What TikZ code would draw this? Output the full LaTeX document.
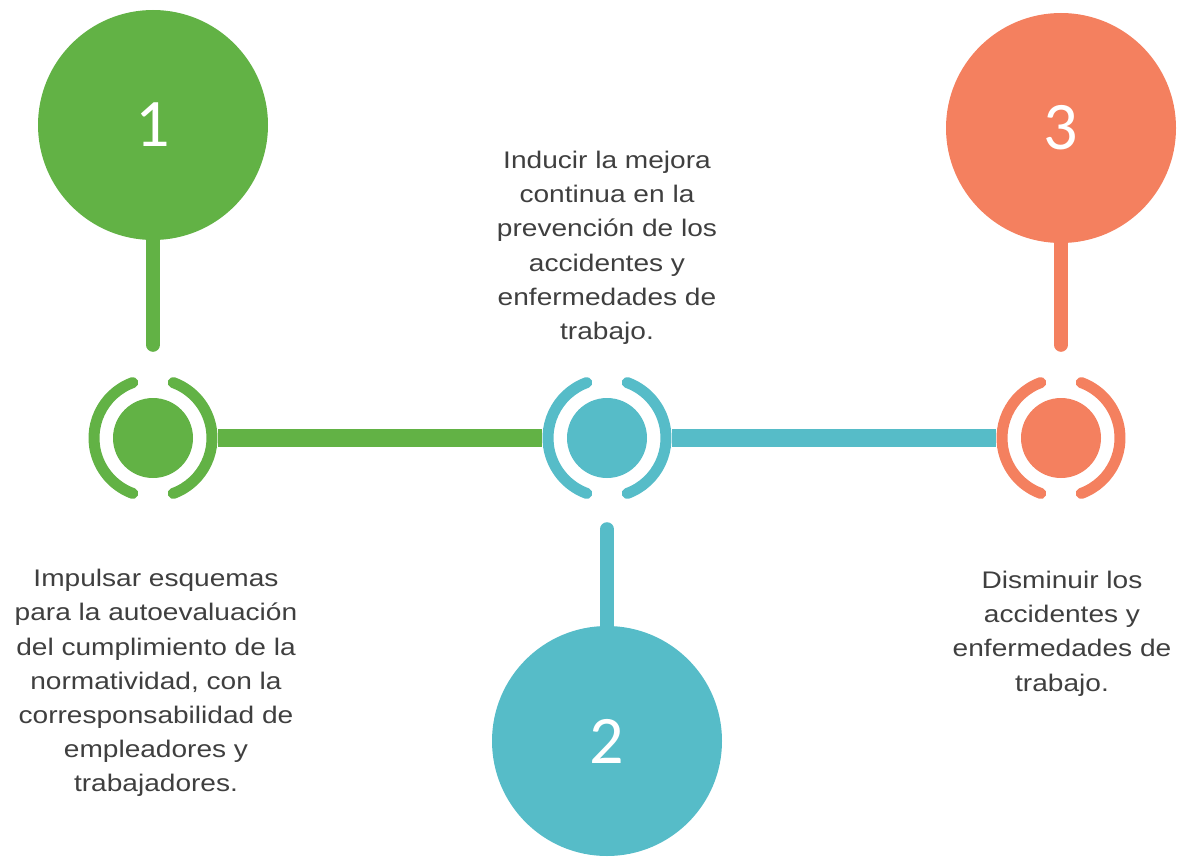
\documentclass[tikz,border=0pt]{standalone}
\usepackage{fontspec}
\setmainfont{Liberation Sans}
\newfontfamily\descfont[FakeStretch=1.17]{Liberation Sans}
\newfontfamily\numfont{Carlito}
\usetikzlibrary{calc}
\definecolor{cgreen}{HTML}{62B245}
\definecolor{cteal}{HTML}{56BCC8}
\definecolor{csalmon}{HTML}{F4805F}
\definecolor{ctext}{HTML}{3F3F3F}
\tikzset{
  bigcircle/.style={circle, fill=#1, minimum size=230pt, inner sep=0pt, text=white,
    font=\numfont\fontsize{68}{68}\selectfont},
  ringzone/.style={circle, minimum size=130pt, inner sep=0pt},
  disk/.style={circle, fill=#1, minimum size=80pt, inner sep=0pt},
  arcline/.style={draw=#1, line width=11pt, line cap=round},
  stem/.style={draw=#1, line width=14pt, line cap=round},
  bar/.style={draw=#1, line width=18pt},
  desc/.style={align=center, text=ctext, inner sep=0pt, anchor=north,
    font=\descfont\fontsize{24}{34.2}\selectfont},
}
\newcommand\myring[2]{%
  \draw[arcline=#2] ([shift={(110:59pt)}]#1.center) arc[start angle=110, end angle=250, radius=59pt];
  \draw[arcline=#2] ([shift={(-70:59pt)}]#1.center) arc[start angle=-70, end angle=70, radius=59pt];
}
\begin{document}
\begin{tikzpicture}[x=1pt,y=-1pt]
\useasboundingbox (0,0) rectangle (1177,859);
% big numbered circles
\node[bigcircle=cgreen] (c1) at (153,125) {1};
\node[bigcircle=cteal] (c2) at (607,741) {2};
\node[bigcircle=csalmon] (c3) at (1061,128) {3};
% rings
\node[ringzone] (r1) at (153,438) {};
\node[ringzone] (r2) at (607,438) {};
\node[ringzone] (r3) at (1061,438) {};
% bars
\draw[bar=cgreen] (r1.east) -- (r2.west);
\draw[bar=cteal] (r2.east) -- (r3.west);
% rings and disks
\myring{r1}{cgreen}
\myring{r2}{cteal}
\myring{r3}{csalmon}
\node[disk=cgreen] (d1) at (r1.center) {};
\node[disk=cteal] (d2) at (r2.center) {};
\node[disk=csalmon] (d3) at (r3.center) {};
% stems
\draw[stem=cgreen] (c1.south) -- ($(r1.north)+(0,-28)$);
\draw[stem=cteal] ($(r2.south)+(0,26)$) -- (c2.north);
\draw[stem=csalmon] (c3.south) -- ($(r3.north)+(0,-28)$);
% texts
\node[desc] (t1) at (156,569) {Impulsar esquemas\\para la autoevaluación\\del cumplimiento de la\\normatividad, con la\\corresponsabilidad de\\empleadores y\\trabajadores.};
\node[desc] (t2) at (607,151) {Inducir la mejora\\continua en la\\prevención de los\\accidentes y\\enfermedades de\\trabajo.};
\node[desc] (t3) at (1062,571) {Disminuir los\\accidentes y\\enfermedades de\\trabajo.};
\end{tikzpicture}
\end{document}
